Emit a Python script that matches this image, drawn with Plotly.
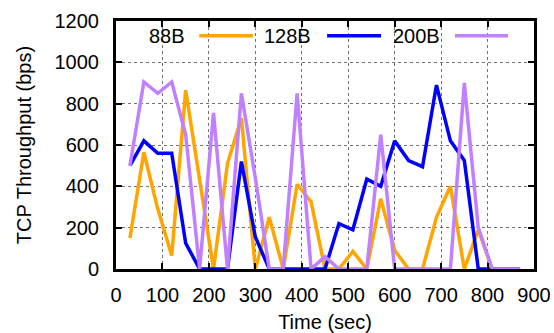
import plotly.graph_objects as go

time_sec = [30, 60, 90, 120, 150, 180, 210, 240, 270, 300, 330, 360, 390, 420, 450,
            480, 510, 540, 570, 600, 630, 660, 690, 720, 750, 780, 810, 840, 870]
tput_88B = [150, 565, 290, 65, 865, 440, 0, 510, 730, 0, 250, 0, 410, 325, 0,
            0, 85, 0, 340, 90, 0, 0, 250, 400, 0, 190, 0, 0, 0]
tput_128B = [500, 620, 560, 560, 125, 0, 0, 0, 520, 155, 0, 0, 0, 0, 0,
             220, 190, 435, 400, 620, 525, 495, 890, 620, 525, 0, 0, 0, 0]
tput_200B = [500, 905, 850, 905, 650, 0, 755, 0, 850, 440, 0, 0, 850, 0, 60,
             0, 0, 0, 650, 0, 0, 0, 0, 0, 900, 200, 0, 0, 0]

series_names = ["88B", "128B", "200B"]
series_values = [tput_88B, tput_128B, tput_200B]
series_colors = ["#FFA500", "#0000FF", "#C080FF"]

x_ticks = [0, 100, 200, 300, 400, 500, 600, 700, 800, 900]
y_ticks = [0, 200, 400, 600, 800, 1000, 1200]

FONT = "Liberation Sans, Arial, sans-serif"
FS = 20

fig = go.Figure()
for name, vals, col in zip(series_names, series_values, series_colors):
    fig.add_trace(go.Scatter(x=time_sec, y=vals, mode="lines", name=name,
                             line=dict(color=col, width=3.5), showlegend=False))

axis_common = dict(
    showline=True, linecolor="black", linewidth=3, mirror="ticks",
    ticks="inside", ticklen=6, tickwidth=1.5, tickcolor="black",
    showgrid=True, gridcolor="rgba(0,0,0,0.55)", gridwidth=1, griddash="dot",
    zeroline=False, automargin=False,
    tickfont=dict(family=FONT, size=FS, color="black"),
)

fig.update_xaxes(range=[0, 900], tickvals=x_ticks, ticklabelstandoff=6,
                 title=dict(text="Time (sec)", font=dict(family=FONT, size=FS, color="black"), standoff=14),
                 **axis_common)
fig.update_yaxes(range=[0, 1200], tickvals=y_ticks, ticklabelstandoff=10,
                 title=dict(text="TCP Throughput (bps)", font=dict(family=FONT, size=FS, color="black"), standoff=18),
                 **axis_common)

# white key background covering the grid at the top
fig.add_shape(type="rect", xref="paper", yref="paper", x0=0, x1=1, y0=0.891, y1=1,
              fillcolor="white", line=dict(width=0), layer="between")

# key: text right-aligned then line sample (gnuplot style)
key_text_right = [0.170, 0.471, 0.780]
key_line_x = [(0.199, 0.328), (0.505, 0.634), (0.811, 0.938)]
key_y = 0.941
for name, col, tx, (lx0, lx1) in zip(series_names, series_colors, key_text_right, key_line_x):
    fig.add_annotation(x=tx, y=key_y, xref="paper", yref="paper", text=name, showarrow=False,
                       xanchor="right", yanchor="middle",
                       font=dict(family=FONT, size=FS, color="black"))
    fig.add_shape(type="line", xref="paper", yref="paper", x0=lx0, x1=lx1, y0=key_y, y1=key_y,
                  line=dict(color=col, width=3.5))

fig.update_layout(
    width=554, height=333,
    margin=dict(l=116, r=20, t=21, b=64),
    paper_bgcolor="white", plot_bgcolor="white",
    font=dict(family=FONT, size=FS, color="black"),
)

fig.write_html("out.html")
